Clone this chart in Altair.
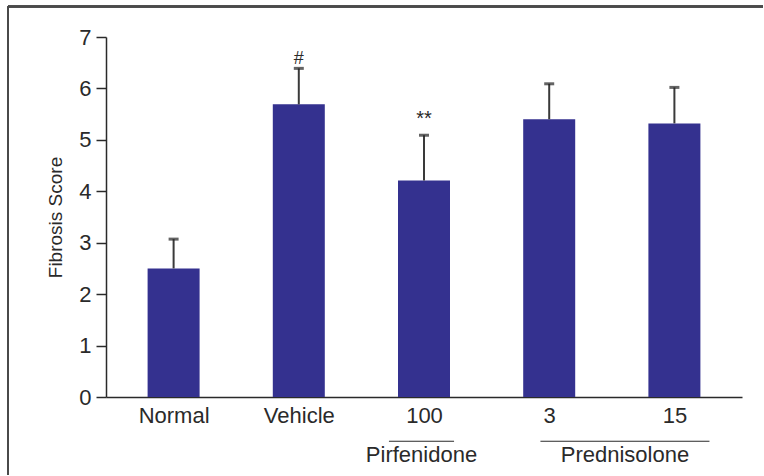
import json

import altair as alt
import pandas as pd

# Fibrosis score per treatment group (mean and upper error limit)
categories = ["Normal", "Vehicle", "100", "3", "15"]
scores = [2.50, 5.69, 4.21, 5.40, 5.32]
upper = [3.07, 6.39, 5.09, 6.09, 6.02]
marks = ["", "#", "**", "", ""]

# Drug names written under their dose labels
groups = ["Pirfenidone", "Prednisolone"]

# Layout: bracket extents in category-slot units
group_start = [2.22, 3.43]
group_end = [2.74, 4.78]

FONT = "Liberation Sans"
BAR = "#34318F"
INK = "#2a2a2a"

df = pd.DataFrame({"cat": categories, "score": scores, "upper": upper, "mark": marks})
df["pos"] = [i + 0.5 for i in range(len(categories))]

gdf = pd.DataFrame({"group": groups, "start": group_start, "end": group_end})
gdf["mid"] = (gdf["start"] + gdf["end"]) / 2

label_expr = json.dumps(categories) + "[floor(datum.value)]"

x_enc = alt.X(
    "pos:Q",
    scale=alt.Scale(domain=[0, len(categories)], nice=False, zero=False),
    axis=alt.Axis(
        values=list(df["pos"]),
        labelExpr=label_expr,
        ticks=False,
        grid=False,
        title=None,
        labelFontSize=22,
        labelPadding=8,
        labelColor=INK,
        domainColor=INK,
        domainWidth=1.5,
    ),
)
y_scale = alt.Scale(domain=[0, 7], nice=False)
y_enc = alt.Y(
    "score:Q",
    scale=y_scale,
    axis=alt.Axis(
        values=list(range(8)),
        tickSize=10,
        tickColor=INK,
        tickWidth=1.5,
        domainColor=INK,
        domainWidth=1.5,
        labelFontSize=22,
        labelPadding=5,
        labelColor=INK,
        grid=False,
        title="Fibrosis Score",
        titleFontSize=19,
        titleFontWeight="normal",
        titleColor=INK,
        titlePadding=13,
    ),
)

base = alt.Chart(df)

bars = base.mark_bar(color=BAR, size=52, orient="vertical").encode(x=x_enc, y=y_enc)

err = base.mark_rule(color="#3a3a3a", strokeWidth=2).encode(
    x="pos:Q", y="score:Q", y2="upper:Q"
)
caps = base.mark_tick(color="#222222", orient="horizontal", size=10, thickness=3).encode(
    x="pos:Q", y="upper:Q"
)

hash_mark = base.transform_filter("datum.mark == '#'").mark_text(
    font=FONT, fontSize=18, color=INK, baseline="alphabetic", dy=-4
).encode(x="pos:Q", y="upper:Q", text="mark:N")
star_mark = base.transform_filter("datum.mark == '**'").mark_text(
    font=FONT, fontSize=20, color=INK, baseline="alphabetic", dy=-10
).encode(x="pos:Q", y="upper:Q", text="mark:N")

gbase = alt.Chart(gdf)
brackets = gbase.mark_rule(color=INK, strokeWidth=1.2).encode(
    x="start:Q", x2="end:Q", y=alt.datum(-0.86)
)
group_text = gbase.mark_text(
    font=FONT, fontSize=22, color=INK, baseline="middle"
).encode(x="mid:Q", y=alt.datum(-1.12), text="group:N")

# Outer frame (top and left edges)
frame_top = alt.Chart(df).mark_rule(color="#4a4a4a", strokeWidth=2).encode(
    x=alt.value(-98), x2=alt.value(657), y=alt.value(-30.5)
)
frame_left = alt.Chart(df).mark_rule(color="#4a4a4a", strokeWidth=2).encode(
    x=alt.value(-98), y=alt.value(-30.5), y2=alt.value(438)
)

chart = (
    alt.layer(bars, err, caps, hash_mark, star_mark, brackets, group_text, frame_top, frame_left)
    .properties(
        width=636,
        height=360,
        padding={"left": 7, "top": 5, "right": 0, "bottom": 0},
        background="white",
    )
    .configure_view(stroke=None)
    .configure_axis(labelFont=FONT, titleFont=FONT)
)

chart.save("out.html", embed_options={"renderer": "svg", "actions": False})
